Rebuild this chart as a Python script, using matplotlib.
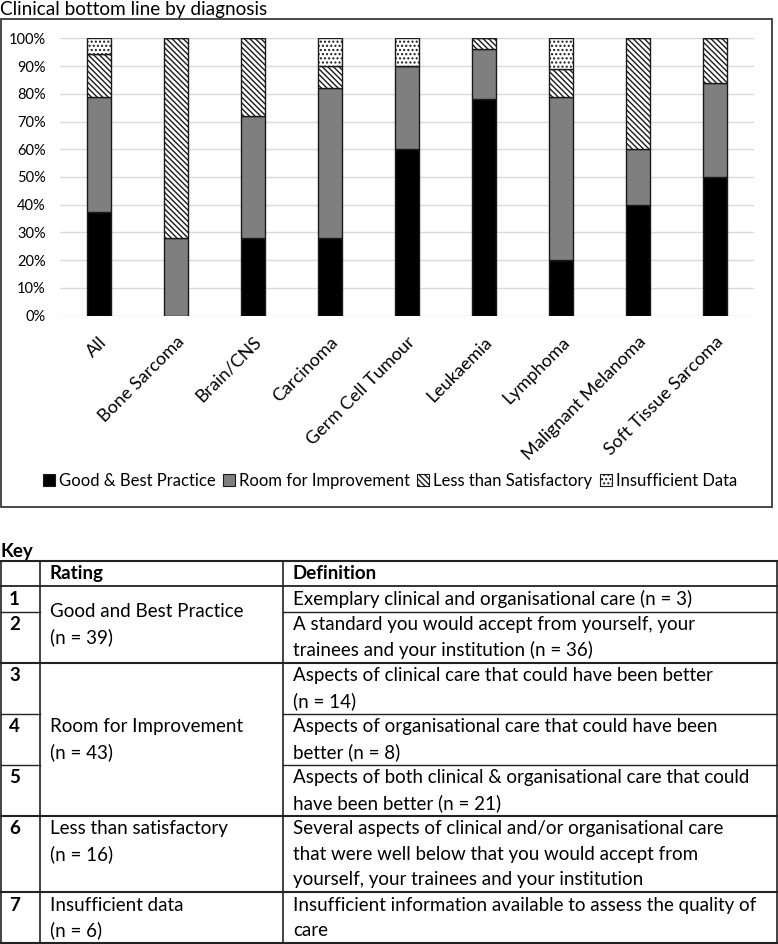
import matplotlib
matplotlib.use('Agg')
import matplotlib.pyplot as plt
from matplotlib.patches import Rectangle, Patch
from matplotlib.transforms import ScaledTranslation

plt.rcParams['font.family'] = ['Lato', 'DejaVu Sans']
plt.rcParams['hatch.linewidth'] = 1.0

# chart data, percent of cases per diagnosis
diagnoses = ['All', 'Bone Sarcoma', 'Brain/CNS', 'Carcinoma', 'Germ Cell Tumour',
             'Leukaemia', 'Lymphoma', 'Malignant Melanoma', 'Soft Tissue Sarcoma']
good = [37.5, 0, 28, 28, 60, 78, 20, 40, 50]
room = [41.3, 28, 44, 54, 30, 18, 59, 20, 34]
less = [15.4, 72, 28, 8, 0, 4, 10, 40, 16]
insufficient = [5.8, 0, 0, 10, 10, 0, 11, 0, 0]

series_names = ['Good & Best Practice', 'Room for Improvement',
                'Less than Satisfactory', 'Insufficient Data']
series_colors = ['black', '#7f7f7f', 'white', 'white']
series_hatch = [None, None, '\\\\\\\\\\\\', '....']

# key table
key_header = ['', 'Rating', 'Definition']
key_nums = ['1', '2', '3', '4', '5', '6', '7']
key_lines = [1, 2, 2, 2, 2, 3, 2]   # text lines per row
key_defs = [
    'Exemplary clinical and organisational care (n = 3)',
    'A standard you would accept from yourself, your\ntrainees and your institution (n = 36)',
    'Aspects of clinical care that could have been better\n(n = 14)',
    'Aspects of organisational care that could have been\nbetter (n = 8)',
    'Aspects of both clinical & organisational care that could\nhave been better (n = 21)',
    'Several aspects of clinical and/or organisational care\nthat were well below that you would accept from\nyourself, your trainees and your institution',
    'Insufficient information available to assess the quality of\ncare',
]
# rating text, first row, last row (merged cells)
key_ratings = [
    ('Good and Best Practice\n(n = 39)', 0, 1, 'center'),
    ('Room for Improvement\n(n = 43)', 2, 4, 'center'),
    ('Less than satisfactory\n(n = 16)', 5, 5, 'top'),
    ('Insufficient data\n(n = 6)', 6, 6, 'top'),
]

W, H = 778, 944
fig = plt.figure(figsize=(W / 100, H / 100), dpi=100)

# background layer in pixel coordinates for box, title and key table
bg = fig.add_axes([0, 0, 1, 1])
bg.set_xlim(0, W)
bg.set_ylim(H, 0)
bg.axis('off')

bg.text(0, 10, 'Clinical bottom line by diagnosis', fontsize=13.7, va='center', ha='left')
bg.add_patch(Rectangle((1, 19), 771, 488, fill=False, edgecolor='#3a3a3a', lw=1.3))

# chart
ax = fig.add_axes([60 / W, 1 - 315.7 / H, 694 / W, 277.4 / H])
ax.patch.set_alpha(0)
x = range(len(diagnoses))
bottom = [0] * len(diagnoses)
for vals, name, col, hat in zip([good, room, less, insufficient], series_names,
                                series_colors, series_hatch):
    ax.bar(x, vals, width=0.31, bottom=bottom, color=col, edgecolor='#1a1a1a',
           linewidth=1.0, hatch=hat, label=name, zorder=3)
    bottom = [b + v for b, v in zip(bottom, vals)]

ax.set_xlim(-0.5, len(diagnoses) - 0.5)
ax.set_ylim(0, 100)
ax.set_yticks(range(0, 101, 10))
ax.set_yticklabels([f'{v}%' for v in range(0, 101, 10)], fontsize=10.5)
ax.set_xticks(list(x))
ax.set_xticklabels(diagnoses, rotation=45, ha='right', va='top',
                   rotation_mode='anchor', fontsize=13)
for lab in ax.get_xticklabels():
    lab.set_transform(lab.get_transform() + ScaledTranslation(0.045, 0, fig.dpi_scale_trans))
ax.tick_params(axis='y', length=0, pad=10.3)
ax.tick_params(axis='x', length=0, pad=13)
ax.grid(axis='y', color='#d9d9d9', lw=1.0, zorder=0)
for s in ax.spines.values():
    s.set_visible(False)

handles = [Patch(facecolor=c, edgecolor='#1a1a1a', hatch=h, lw=0.8, label=n)
           for n, c, h in zip(series_names, series_colors, series_hatch)]
fig.legend(handles=handles, loc='center', bbox_to_anchor=(390 / W, 1 - 480.7 / H),
           ncol=4, frameon=False, fontsize=12, handlelength=0.7, handleheight=0.7,
           handletextpad=0.25, columnspacing=0.45)

# key table
bg.text(0, 552, 'Key', fontsize=13.5, fontweight='bold', va='center', ha='left')
top, lh = 560.7, 25.5
c0, c1, c2, c3 = 1, 40, 283, 776.7
rows_y = [top + lh]
for n in key_lines:
    rows_y.append(rows_y[-1] + lh * n)
fs = 13.5

bg.plot([c0, c3], [top, top], color='#222222', lw=1.5)
bg.text(c1 + 10, top + 13, key_header[1], fontsize=fs, fontweight='bold', va='center')
bg.text(c2 + 10, top + 13, key_header[2], fontsize=fs, fontweight='bold', va='center')

for i, (num, d) in enumerate(zip(key_nums, key_defs)):
    y0 = rows_y[i]
    bg.text(c0 + 8, y0 + 13, num, fontsize=fs, fontweight='bold', va='center')
    for j, line in enumerate(d.split('\n')):
        bg.text(c2 + 10, y0 + 13 + j * lh, line, fontsize=fs, va='center')

# horizontal rules: full width where rating cell ends, otherwise skip rating column
ends = [r[2] for r in key_ratings]
bg.plot([c0, c3], [rows_y[0], rows_y[0]], color='#222222', lw=1.3)
for i in range(len(key_nums)):
    y = rows_y[i + 1]
    if i in ends:
        bg.plot([c0, c3], [y, y], color='#222222', lw=1.5)
    else:
        bg.plot([c0, c1], [y, y], color='#222222', lw=1.0)
        bg.plot([c2, c3], [y, y], color='#222222', lw=1.0)

for cx in [c0, c1, c2, c3]:
    bg.plot([cx, cx], [top, rows_y[-1]], color='#222222', lw=1.2)

for text, r0, r1, pos in key_ratings:
    lines = text.split('\n')
    if pos == 'center':
        mid = (rows_y[r0] + rows_y[r1 + 1]) / 2
        first = mid - (len(lines) - 1) * lh / 2
    else:
        first = rows_y[r0] + 13
    for j, line in enumerate(lines):
        bg.text(c1 + 10, first + j * lh, line, fontsize=fs, va='center')

fig.savefig('out.png', dpi=100)
